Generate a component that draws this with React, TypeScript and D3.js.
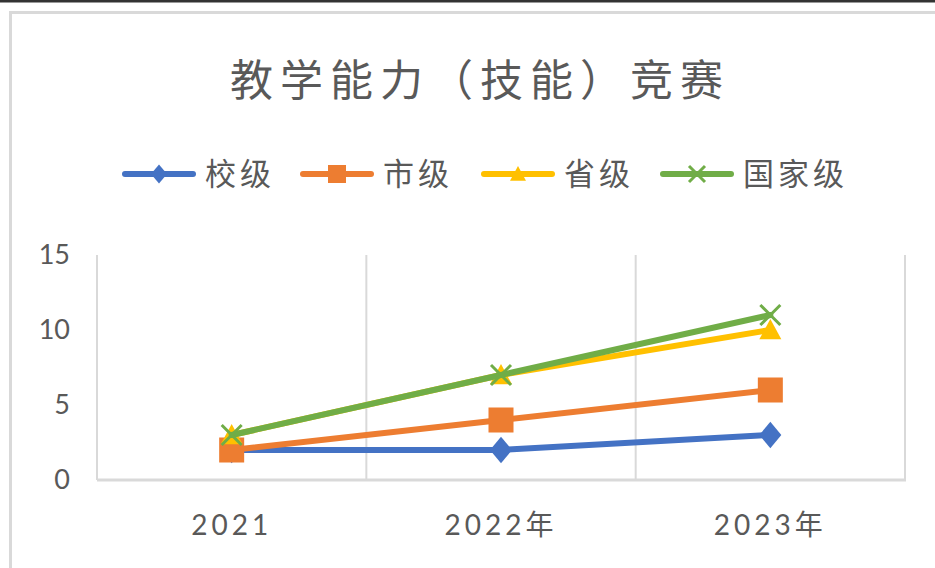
import React from "react";
import * as d3 from "d3";

const categories = ["2021", "2022年", "2023年"];
const seriesNames = ["校级", "市级", "省级", "国家级"];
const schoolLevel = [2, 2, 3];
const cityLevel = [2, 4, 6];
const provinceLevel = [3, 7, 10];
const nationalLevel = [3, 7, 11];
const yTicks = [0, 5, 10, 15];
const title = "教学能力（技能）竞赛";

const colors = ["#4472C4", "#ED7D31", "#FFC000", "#70AD47"];
const markers = ["diamond", "square", "triangle", "x"];

const W = 935;
const H = 568;

function Marker({ type, x, y, s, color }: { type: string; x: number; y: number; s: number; color: string }) {
  const h = s / 2;
  if (type === "diamond") {
    return <path d={`M${x},${y - h * 1.2}L${x + h},${y}L${x},${y + h * 1.2}L${x - h},${y}Z`} fill={color} />;
  }
  if (type === "square") {
    return <rect x={x - h} y={y - h} width={s} height={s} fill={color} />;
  }
  if (type === "triangle") {
    return <path d={`M${x},${y - h}L${x + h},${y + h * 0.85}L${x - h},${y + h * 0.85}Z`} fill={color} />;
  }
  return (
    <path
      d={`M${x - h},${y - h}L${x + h},${y + h}M${x + h},${y - h}L${x - h},${y + h}`}
      stroke={color}
      strokeWidth={3}
      fill="none"
    />
  );
}

export default function App() {
  const series = [schoolLevel, cityLevel, provinceLevel, nationalLevel];
  const x = d3.scaleBand<string>().domain(categories).range([97, 905]);
  const y = d3.scaleLinear().domain([0, 15]).range([480, 255]);
  const cx = (c: string) => (x(c) as number) + x.bandwidth() / 2;
  const line = d3
    .line<number>()
    .x((_, i) => cx(categories[i]))
    .y((d) => y(d));
  const gridXs = [...categories.map((c) => x(c) as number), 905];

  const legendX = [125, 303, 484, 663];
  const textFont = "Lato, 'Noto Sans CJK SC', sans-serif";
  const cjkFont = "'Noto Sans CJK SC', sans-serif";

  return (
    <svg
      width={W}
      height={H}
      style={{ position: "absolute", left: 0, top: 0, background: "#fff" }}
    >
      <rect x={0} y={0} width={W} height={H} fill="#fff" />
      <rect x={0} y={0} width={W} height={2.5} fill="#333" />
      <rect x={10.5} y={12.5} width={W + 10} height={H + 10} fill="none" stroke="#d9d9d9" strokeWidth={3} />

      <text
        x={480}
        y={96}
        textAnchor="middle"
        fontFamily={cjkFont}
        fontSize={43}
        letterSpacing={7}
        fill="#595959"
      >
        {title}
      </text>

      {seriesNames.map((n, i) => (
        <g key={n}>
          <line x1={legendX[i]} x2={legendX[i] + 68} y1={174} y2={174} stroke={colors[i]} strokeWidth={6} strokeLinecap="round" />
          <Marker type={markers[i]} x={legendX[i] + 34} y={174} s={markers[i] === "square" ? 18 : 16} color={colors[i]} />
          <text
            x={legendX[i] + 80}
            y={185}
            fontFamily={cjkFont}
            fontSize={31}
            letterSpacing={4}
            fill="#595959"
          >
            {n}
          </text>
        </g>
      ))}

      {gridXs.map((gx, i) => (
        <line key={i} x1={gx} x2={gx} y1={255} y2={480} stroke="#d9d9d9" strokeWidth={2} />
      ))}
      <line x1={97} x2={906} y1={480} y2={480} stroke="#d9d9d9" strokeWidth={3} />

      {yTicks.map((t) => (
        <text
          key={t}
          x={70}
          y={y(t) + 9}
          textAnchor="end"
          fontFamily={textFont}
          fontSize={27}
          fill="#595959"
        >
          {t}
        </text>
      ))}

      {categories.map((c) => (
        <text
          key={c}
          x={cx(c)}
          y={535}
          textAnchor="middle"
          fontFamily={textFont}
          fontSize={28}
          letterSpacing={4}
          fill="#595959"
        >
          {c}
        </text>
      ))}

      {series.map((s, i) => (
        <g key={i}>
          <path d={line(s) as string} fill="none" stroke={colors[i]} strokeWidth={6} strokeLinejoin="round" strokeLinecap="round" />
          {s.map((v, j) => (
            <Marker
              key={j}
              type={markers[i]}
              x={cx(categories[j])}
              y={y(v)}
              s={markers[i] === "x" ? 20 : markers[i] === "square" ? 25 : 22}
              color={colors[i]}
            />
          ))}
        </g>
      ))}
    </svg>
  );
}
